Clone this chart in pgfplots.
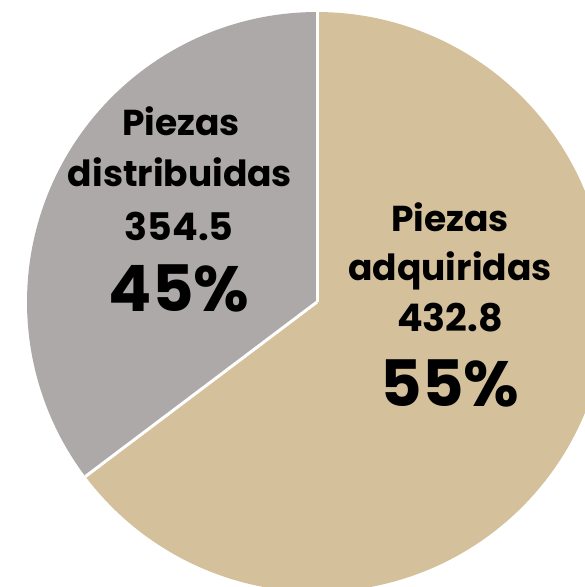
\documentclass[border=0pt]{standalone}
\usepackage{pgfplots}
\pgfplotsset{compat=1.18}
\usepackage{fontspec}
\setmainfont{Poppins}
\definecolor{tanc}{HTML}{D4C19C}
\definecolor{grayc}{HTML}{ADA9A8}
\begin{document}
\begin{tikzpicture}
\begin{axis}[name=ax, width=585pt, height=587pt, scale only axis, hide axis,
  xmin=0, xmax=585, ymin=0, ymax=587, clip=true]
% slices: Piezas adquiridas 432.8 (55%), Piezas distribuidas 354.5 (45%)
% slice angles as drawn in the reference: adquiridas from -143 to 90 deg, distribuidas from 90 to 217 deg
\addplot[draw=none, fill=tanc, domain=-143:90, samples=150, variable=\t]
  ({317+290*cos(t)}, {285+290*sin(t)}) -- (axis cs:317,285) -- cycle;
\addplot[draw=none, fill=grayc, domain=90:217, samples=100, variable=\t]
  ({317+290*cos(t)}, {285+290*sin(t)}) -- (axis cs:317,285) -- cycle;
\addplot[white, line width=3pt] coordinates {(317,285) (317,590)};
\addplot[white, line width=3pt] coordinates {(317,285) (85.4,110.5)};
\node[anchor=base, font=\fontsize{36}{36}\selectfont\bfseries] at (axis cs:181,451) {Piezas};
\node[anchor=base, font=\fontsize{36}{36}\selectfont\bfseries] at (axis cs:180,400) {distribuidas};
\node[anchor=base, font=\fontsize{38}{38}\selectfont\bfseries] at (axis cs:179,346) {354.5};
\node[anchor=base, font=\fontsize{64}{64}\selectfont\bfseries] at (axis cs:179,275) {45\%};
\node[anchor=base, font=\fontsize{36}{36}\selectfont\bfseries] at (axis cs:450,355) {Piezas};
\node[anchor=base, font=\fontsize{36}{36}\selectfont\bfseries] at (axis cs:450,306) {adquiridas};
\node[anchor=base, font=\fontsize{38}{38}\selectfont\bfseries] at (axis cs:450,255) {432.8};
\node[anchor=base, font=\fontsize{64}{64}\selectfont\bfseries] at (axis cs:450,180) {55\%};
\end{axis}
\pgfresetboundingbox
\path (ax.south west) rectangle (ax.north east);
\end{tikzpicture}
\end{document}
